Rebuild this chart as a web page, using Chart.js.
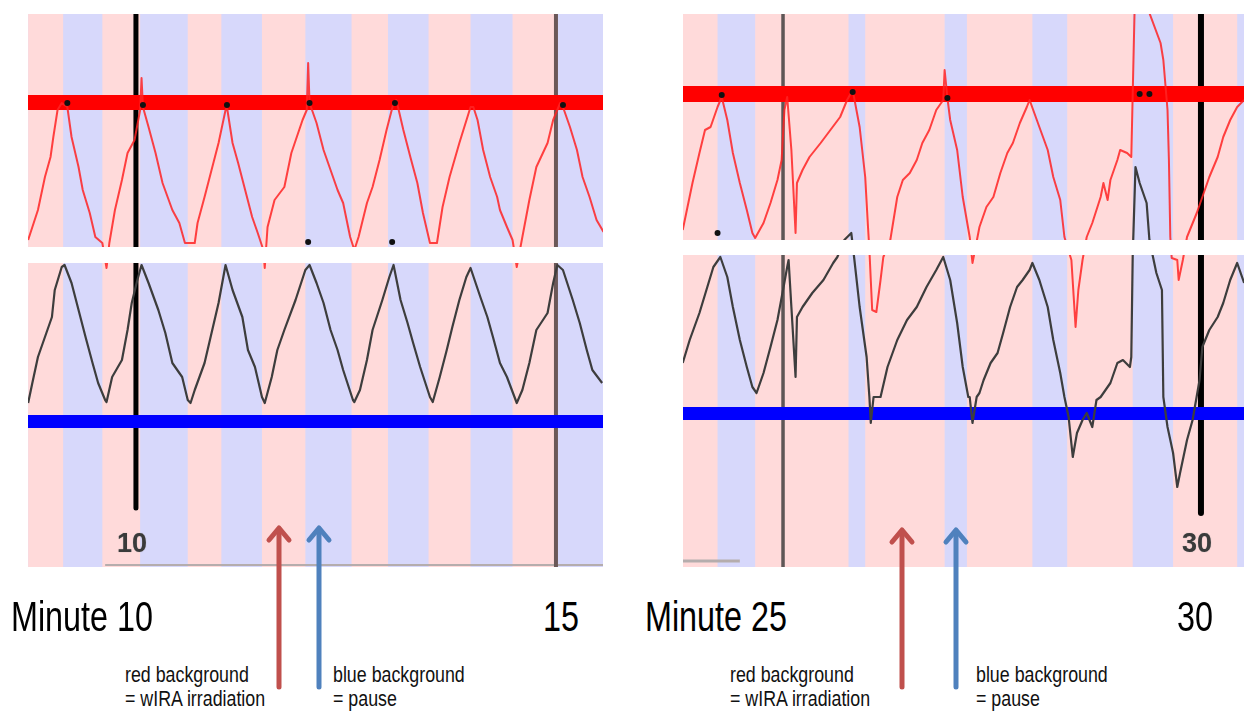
<!DOCTYPE html>
<html>
<head>
<meta charset="utf-8">
<script src="https://cdn.jsdelivr.net/npm/chart.js@4.4.1/dist/chart.umd.min.js"></script>
<style>
  body {
    margin: 0;
    width: 1244px;
    height: 711px;
    background: #fff;
    position: relative;
    overflow: hidden;
    font-family: "Liberation Sans", Arial, sans-serif;
  }
  .panel { position: absolute; }
  .big {
    position: absolute;
    font-size: 42px;
    line-height: 42px;
    transform: scaleX(0.77);
    transform-origin: left top;
    white-space: nowrap;
    color: #000;
  }
  .note {
    position: absolute;
    font-size: 22px;
    line-height: 24px;
    transform: scaleX(0.81);
    transform-origin: left top;
    white-space: nowrap;
    color: #111;
  }
  .tick {
    position: absolute;
    top: 530px;
    font-size: 27px;
    line-height: 27px;
    font-weight: bold;
    color: #3a3a3a;
    text-shadow: 0 0 1px #999;
  }
  #arrows { position: absolute; left: 0; top: 0; }
</style>
</head>
<body>

<div class="panel" style="left:28px;top:14px;width:575px;height:553px">
  <canvas id="chartMinute10" width="575" height="553"></canvas>
</div>
<div class="panel" style="left:683px;top:14px;width:561px;height:553px">
  <canvas id="chartMinute25" width="561" height="553"></canvas>
</div>

<div class="tick" id="tick10">10</div>
<div class="tick" id="tick30">30</div>

<div class="big" style="left:11px;top:596px">Minute 10</div>
<div class="big" style="left:543px;top:596px">15</div>
<div class="big" style="left:645px;top:596px">Minute 25</div>
<div class="big" style="left:1177px;top:596px">30</div>

<div class="note" style="left:125px;top:663px">red background<br>= wIRA irradiation</div>
<div class="note" style="left:333px;top:663px">blue background<br>= pause</div>
<div class="note" style="left:730px;top:663px">red background<br>= wIRA irradiation</div>
<div class="note" style="left:976px;top:663px">blue background<br>= pause</div>

<svg id="arrows" width="1244" height="711">
  <g fill="none" stroke-width="5" stroke-linecap="round" stroke-linejoin="round">
    <g stroke="#c0504d">
      <line x1="279" y1="687" x2="279" y2="529"/>
      <polyline points="269,540 279,528 289,540"/>
      <line x1="902" y1="687" x2="902" y2="531"/>
      <polyline points="892,542 902,530 912,542"/>
    </g>
    <g stroke="#4f81bd">
      <line x1="319" y1="687" x2="319" y2="529"/>
      <polyline points="309,540 319,528 329,540"/>
      <line x1="956" y1="687" x2="956" y2="531"/>
      <polyline points="946,542 956,530 966,542"/>
    </g>
  </g>
</svg>

<script>
const PINK_BG = "#ffdada";
const BLUE_BG = "#d7d8fb";

// time in seconds, signal in arbitrary units (0 = bottom of trace window)
const minute10Range = [522.9, 933.6];
const minute10Irradiation = [[523, 548], [576, 603], [637, 661], [690, 721], [754, 780], [809, 839], [869, 899]];
const minute10Red = [
  [523,65.4],[530,71.4],[535,78],[539,82],[541,86],[544,91.4],[547,92.8],[551,92],[554,86],[559,80],
  [562,75.4],[567,70.8],[571,66],[576,64.8],[579,59.8],[581,64.8],[585,71.4],[590,77.4],[594,82.8],[599,85.4],
  [603,91.4],[604,97.8],[605,92],[609,88],[614,82.8],[619,76.8],[626,71.4],[631,68.8],[635,64.8],[642,64.8],
  [644,68.8],[649,74],[654,79.4],[659,84.8],[664,91.4],[665,92],[669,84.8],[673,80.8],[678,75.4],[683,70],
  [687,66.8],[691,63.4],[692,59.8],[694,68],[699,73.4],[706,76],[711,82.8],[719,89.4],[722,91.4],[723,100.8],
  [724,92.8],[729,88.8],[734,83.4],[739,79.4],[744,75.4],[748,72.8],[753,66],[756,63.4],[759,66],[765,72.8],
  [769,76],[774,81.4],[779,87.4],[784,92.8],[786,93.4],[791,87.4],[796,82],[801,76.8],[805,70.8],[810,64.8],
  [815,64.8],[819,72],[824,78],[831,84.8],[839,92],[841,92],[844,89.4],[848,83.4],[853,78],[858,74],
  [860,71.4],[865,68],[869,65.4],[872,60],[876,66],[881,73.4],[886,80],[894,84.8],[898,89.4],[903,92.8],
  [905,92],[910,88],[915,83.4],[919,78],[924,74],[929,69.4],[934,67]
];
const minute10Black = [
  [523,32.8],[526,36.8],[530,42],[535,46],[540,50],[542,55.4],[547,60],[549,60.4],[554,56.8],[559,51.4],
  [564,46],[569,40.8],[573,36.8],[578,33.4],[579,33],[583,38],[590,41.4],[594,47.4],[597,52.8],[601,57.4],
  [604,60.4],[609,56.8],[616,51.4],[621,46.8],[626,40.8],[633,38],[637,33.4],[639,32.8],[642,35.4],[649,40.8],
  [654,46.8],[659,52.8],[664,60.4],[669,55.4],[676,50],[680,43.4],[685,40],[690,34],[692,32.8],[697,38],
  [701,43.4],[706,47.4],[714,53.4],[721,59.4],[724,60.4],[729,56.8],[734,52.8],[739,47.4],[744,43.4],[748,39.4],
  [755,33.4],[756,33],[760,35.4],[765,41.4],[769,47.4],[776,53.4],[781,58],[784,60.4],[789,53.4],[794,48.8],
  [798,44.8],[803,40],[810,34],[812,33],[817,38],[822,43.4],[826,48],[831,53.4],[836,58],[839,59.8],
  [846,54],[851,50],[855,46],[860,40.8],[865,38],[872,32.8],[876,35.4],[881,40.8],[886,47.4],[894,50.8],
  [898,56.8],[901,60.4],[905,59.4],[912,53.4],[917,48.8],[922,43.4],[926,39.4],[933,36.8]
];
const minute10Marks = [[551,92.8],[605,92.4],[665,92.4],[724,92.8],[785,92.8],[905,92.4],[723,65],[783,65]];
const minute10Limits = [92.9, 29.1];
const minute10Gap = [60.8, 64];
const minute10Baseline = [578, 934];

const minute25Range = [1428.2, 1830.9];
const minute25Irradiation = [[1428, 1453], [1480, 1547], [1559, 1616], [1632, 1679], [1704, 1751], [1780, 1826]];
const minute25Red = [
  [1428,67.4],[1435,76.8],[1440,82.8],[1444,87.4],[1448,88],[1453,92],[1456,94],[1460,89.4],[1464,82.8],[1469,76.8],
  [1474,71.4],[1478,66.8],[1480,65.8],[1486,68.8],[1491,72.8],[1496,77.4],[1499,81.4],[1501,91.4],[1503,94],[1506,83.4],
  [1509,66.8],[1510,76.8],[1514,79.4],[1519,82],[1527,84.8],[1534,87.4],[1541,90],[1546,93.4],[1550,95.4],[1555,88],
  [1559,78],[1561,68],[1562,63.4],[1564,51.4],[1567,51],[1570,57.4],[1572,62],[1577,65.4],[1582,74],[1586,77.4],
  [1591,78.8],[1596,81.4],[1600,84.8],[1605,87.4],[1610,91.4],[1615,93.4],[1616,99.4],[1618,93.8],[1620,89.4],[1625,83.4],
  [1629,74],[1634,66],[1636,60.8],[1641,68],[1646,72],[1651,74],[1656,78.8],[1661,82.8],[1665,84.8],[1670,88.8],
  [1675,92],[1677,93.4],[1684,88],[1690,83.4],[1694,78],[1699,73.4],[1702,66],[1707,61.4],[1710,48],[1712,55.4],
  [1715,61.4],[1718,66],[1722,68.8],[1728,74],[1730,76.8],[1733,73.4],[1735,77.4],[1740,81.4],[1742,83.4],[1747,82.8],
  [1750,82],[1753,119.4],[1763,110.8],[1771,104.8],[1773,101.4],[1776,91.4],[1777,81.4],[1778,66],[1779,61.8],[1783,61.4],
  [1784,57.4],[1787,61.4],[1790,66],[1797,70.8],[1801,74],[1806,78],[1812,82],[1816,86],[1821,89.4],[1826,92],
  [1831,93.4]
];
const minute25Black = [
  [1428,40.8],[1433,45.4],[1440,50.8],[1445,55.4],[1450,60],[1455,62],[1460,58],[1464,52],[1469,45.4],[1474,40],
  [1478,36],[1481,34.8],[1486,38.8],[1491,44],[1496,49.4],[1500,55.4],[1503,60],[1504,61.4],[1506,52],[1509,38],
  [1510,50],[1514,52],[1521,54.8],[1529,57.4],[1536,60.8],[1539,62],[1544,65.4],[1549,66.8],[1551,62],[1555,52],
  [1560,42],[1562,34],[1563,28.8],[1565,34],[1570,34],[1575,40],[1582,45.4],[1589,49.4],[1596,52],[1603,56],
  [1610,59.4],[1615,62],[1620,57.4],[1625,48.8],[1629,40],[1633,34],[1634,34],[1636,28.8],[1639,34],[1641,34.8],
  [1644,37.4],[1649,40.8],[1654,42.8],[1658,46.8],[1663,52],[1668,56],[1672,57.4],[1677,59.4],[1679,60.8],[1684,57.4],
  [1690,52],[1694,45.4],[1699,38.8],[1702,34],[1705,30],[1708,22],[1711,26.8],[1715,29.4],[1718,30.8],[1722,28],
  [1725,33.4],[1728,34],[1730,34.8],[1735,36.8],[1740,40.8],[1744,41.4],[1749,40],[1750,42],[1751,62],[1753,80],
  [1756,76.8],[1761,72.8],[1763,65.4],[1768,58.8],[1772,55.4],[1773,34],[1776,28],[1780,22.8],[1783,16],[1785,18.8],
  [1790,25.4],[1794,29.4],[1799,37.4],[1801,44],[1806,47.4],[1812,50],[1816,52.8],[1821,57.4],[1826,60.8],[1831,56.8]
];
const minute25Marks = [[1456,94.4],[1550,95],[1618,93.8],[1756,94.6],[1763,94.6],[1453,66.8]];
const minute25Limits = [94.6, 30.7];
const minute25Gap = [62.4, 65.4];
const minute25Baseline = [1428, 1469];

const Y_MAX = 110.6;

const backgroundBands = {
  id: "backgroundBands",
  beforeDatasetsDraw(chart, args, opts) {
    const { ctx, chartArea: a, scales: { x } } = chart;
    ctx.save();
    ctx.fillStyle = BLUE_BG;
    ctx.fillRect(a.left, a.top, a.width, a.height);
    ctx.fillStyle = PINK_BG;
    opts.bands.forEach(([from, to]) => {
      const x0 = x.getPixelForValue(from);
      const x1 = x.getPixelForValue(to);
      ctx.fillRect(x0, a.top, x1 - x0, a.height);
    });
    ctx.restore();
  },
  afterDatasetsDraw(chart, args, opts) {
    // white strip separating the two channels
    const { ctx, chartArea: a, scales: { y } } = chart;
    const top = y.getPixelForValue(opts.gap[1]);
    const bottom = y.getPixelForValue(opts.gap[0]);
    ctx.save();
    ctx.fillStyle = "#ffffff";
    ctx.fillRect(a.left, top, a.width, bottom - top);
    ctx.restore();
  },
};

function toPoints(pairs) {
  return pairs.map(([x, y]) => ({ x, y }));
}

function lineDataset(pairs, color, width, order) {
  return {
    data: toPoints(pairs),
    borderColor: color,
    borderWidth: width,
    pointRadius: 0,
    tension: 0,
    fill: false,
    borderJoinStyle: "round",
    order,
  };
}

function renderPanel(canvasId, p) {
  const ctx = document.getElementById(canvasId);
  const [xMin, xMax] = p.range;

  const datasets = [
    {
      data: toPoints(p.marks),
      showLine: false,
      pointRadius: 3,
      pointBorderWidth: 0,
      pointBackgroundColor: "#111",
      order: 0,
    },
    lineDataset(p.red, "rgba(255,35,35,0.85)", 2, 1),
    lineDataset(p.black, "#3d3d3d", 2.2, 2),
    lineDataset([[xMin, p.limits[0]], [xMax, p.limits[0]]], "#ff0000", p.redWidth, 3),
    lineDataset([[xMin, p.limits[1]], [xMax, p.limits[1]]], "#0000ff", 13, 3),
    lineDataset([[p.thin, 0], [p.thin, Y_MAX]], p.thinColor, p.thinWidth, 4),
    lineDataset([[p.thick, Y_MAX], [p.thick, p.thickEnd]], "#000", p.thickWidth, 4),
    lineDataset([[p.baseline[0], p.baselineLevel], [p.baseline[1], p.baselineLevel]], "#b5adad", p.baselineWidth, 5),
  ];

  return new Chart(ctx, {
    type: "line",
    data: { datasets },
    options: {
      responsive: false,
      animation: false,
      devicePixelRatio: 1,
      events: [],
      layout: { padding: 0, autoPadding: false },
      plugins: {
        legend: { display: false },
        tooltip: { enabled: false },
        backgroundBands: { bands: p.bands, gap: p.gap },
      },
      scales: {
        x: { type: "linear", min: xMin, max: xMax, display: false },
        y: { type: "linear", min: 0, max: Y_MAX, display: false },
      },
    },
    plugins: [backgroundBands],
  });
}

const chartMinute10 = renderPanel("chartMinute10", {
  range: minute10Range,
  bands: minute10Irradiation,
  red: minute10Red,
  black: minute10Black,
  marks: minute10Marks,
  limits: minute10Limits,
  gap: minute10Gap,
  redWidth: 15,
  thin: 900,
  thinColor: "#6b5858",
  thinWidth: 4,
  thick: 600,
  thickEnd: 11.8,
  thickWidth: 5,
  baseline: minute10Baseline,
  baselineLevel: 0.4,
  baselineWidth: 2,
});

const chartMinute25 = renderPanel("chartMinute25", {
  range: minute25Range,
  bands: minute25Irradiation,
  red: minute25Red,
  black: minute25Black,
  marks: minute25Marks,
  limits: minute25Limits,
  gap: minute25Gap,
  redWidth: 16,
  thin: 1500,
  thinColor: "#5e5656",
  thinWidth: 3.5,
  thick: 1800,
  thickEnd: 10.8,
  thickWidth: 6,
  baseline: minute25Baseline,
  baselineLevel: 1.2,
  baselineWidth: 3,
});

// minute labels sit just left of their marker line
function placeTick(chart, id, value, panelLeft) {
  const el = document.getElementById(id);
  const x = chart.scales.x.getPixelForValue(value);
  el.style.left = panelLeft + x - el.offsetWidth / 2 - 4 + "px";
}

placeTick(chartMinute10, "tick10", 600, 28);
placeTick(chartMinute25, "tick30", 1800, 683);
</script>
</body>
</html>
